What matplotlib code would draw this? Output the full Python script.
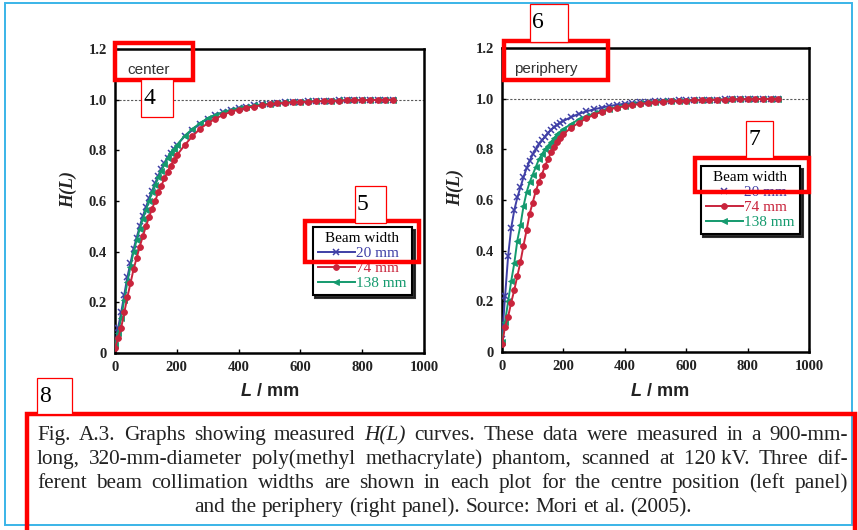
import matplotlib
matplotlib.use('Agg')
import matplotlib.pyplot as plt
from matplotlib.patches import Rectangle

# ---------------- data ----------------
L_mm = [0, 10, 20, 30, 40, 50, 60, 70, 80, 90, 100, 110, 120, 130, 140, 150, 160, 170, 180, 190, 200,
        225, 250, 275, 300, 325, 350, 375, 400, 425, 450, 475, 500, 525, 550, 575, 600, 625, 650, 675,
        700, 725, 750, 775, 800, 825, 850, 875, 900]

center_20 = [0.03, 0.10, 0.16, 0.23, 0.30, 0.355, 0.41, 0.455, 0.50, 0.54, 0.575, 0.61, 0.64, 0.67, 0.70,
             0.725, 0.75, 0.77, 0.79, 0.805, 0.82, 0.855, 0.88, 0.905, 0.925, 0.94, 0.95, 0.96, 0.967,
             0.972, 0.977, 0.981, 0.984, 0.987, 0.989, 0.991, 0.992, 0.993, 0.994, 0.995, 0.996, 0.997,
             0.997, 0.998, 0.998, 0.999, 0.999, 0.999, 1.0]
center_74 = [0.02, 0.06, 0.10, 0.16, 0.22, 0.275, 0.33, 0.375, 0.42, 0.46, 0.50, 0.535, 0.57, 0.60, 0.635,
             0.66, 0.69, 0.715, 0.74, 0.76, 0.78, 0.82, 0.855, 0.885, 0.907, 0.925, 0.94, 0.952, 0.961,
             0.968, 0.973, 0.978, 0.982, 0.985, 0.987, 0.989, 0.991, 0.992, 0.993, 0.994, 0.995, 0.996,
             0.997, 0.997, 0.998, 0.998, 0.999, 0.999, 1.0]
center_138 = [0.03, 0.08, 0.14, 0.21, 0.28, 0.34, 0.40, 0.445, 0.49, 0.53, 0.565, 0.60, 0.635, 0.665, 0.695,
              0.72, 0.745, 0.77, 0.79, 0.805, 0.82, 0.857, 0.884, 0.907, 0.927, 0.94, 0.95, 0.959, 0.966,
              0.972, 0.977, 0.981, 0.984, 0.987, 0.989, 0.991, 0.992, 0.993, 0.994, 0.995, 0.996, 0.997,
              0.997, 0.998, 0.998, 0.999, 0.999, 0.999, 1.0]

periph_20 = [0.05, 0.22, 0.38, 0.49, 0.56, 0.61, 0.65, 0.69, 0.725, 0.755, 0.78, 0.80, 0.82, 0.835, 0.85,
             0.865, 0.878, 0.888, 0.897, 0.905, 0.912, 0.927, 0.94, 0.95, 0.958, 0.965, 0.971, 0.976, 0.98,
             0.983, 0.986, 0.988, 0.99, 0.991, 0.992, 0.993, 0.994, 0.995, 0.995, 0.996, 0.996, 0.997,
             0.997, 0.998, 0.998, 0.999, 0.999, 0.999, 1.0]
periph_74 = [0.03, 0.10, 0.14, 0.195, 0.245, 0.30, 0.355, 0.42, 0.48, 0.545, 0.59, 0.635, 0.67, 0.70, 0.735,
             0.76, 0.79, 0.81, 0.83, 0.845, 0.86, 0.885, 0.905, 0.922, 0.937, 0.948, 0.958, 0.965, 0.97,
             0.975, 0.979, 0.983, 0.986, 0.988, 0.99, 0.991, 0.992, 0.993, 0.994, 0.995, 0.996, 0.996,
             0.997, 0.997, 0.998, 0.998, 0.999, 0.999, 1.0]
periph_138 = [0.04, 0.12, 0.20, 0.28, 0.35, 0.44, 0.50, 0.575, 0.63, 0.67, 0.70, 0.73, 0.76, 0.78, 0.80,
              0.815, 0.83, 0.845, 0.86, 0.87, 0.88, 0.90, 0.918, 0.93, 0.942, 0.952, 0.96, 0.967, 0.973,
              0.977, 0.981, 0.984, 0.987, 0.989, 0.99, 0.991, 0.992, 0.993, 0.994, 0.995, 0.996, 0.996,
              0.997, 0.997, 0.998, 0.998, 0.999, 0.999, 1.0]

beam_labels = ['20 mm', '74 mm', '138 mm']
panel_names = ['center', 'periphery']
x_ticks = [0, 200, 400, 600, 800, 1000]
x_tick_labels = ['0', '200', '400', '600', '800', '1000']
y_ticks = [0, 0.2, 0.4, 0.6, 0.8, 1.0, 1.2]
y_tick_labels = ['0', '0.2', '0.4', '0.6', '0.8', '1.0', '1.2']

caption_lines = [
    "Fig. A.3. Graphs showing measured H(L) curves. These data were measured in a 900-mm-",
    "long, 320-mm-diameter poly(methyl methacrylate) phantom, scanned at 120\u00a0kV. Three dif-",
    "ferent beam collimation widths are shown in each plot for the centre position (left panel)",
    "and the periphery (right panel). Source: Mori et al. (2005).",
]

# ---------------- layout ----------------
W, H = 858, 530
fig = plt.figure(figsize=(W / 100, H / 100), dpi=100)
fig.patch.set_facecolor('white')


def fig_rect(x0, y0, x1, y1):
    return [x0 / W, 1 - y1 / H, (x1 - x0) / W, (y1 - y0) / H]


colors = ['#3f3fa6', '#c9243c', '#149a6e']
markers = ['x', 'o', '<']
serif = 'Liberation Serif'
sans = 'Liberation Sans'

panels = [
    dict(box=(115, 49, 424, 353), data=[center_20, center_74, center_138], name=panel_names[0],
         leg=(412, 227), ylab=(68, 190), xlab=270),
    dict(box=(502, 48, 809, 352), data=[periph_20, periph_74, periph_138], name=panel_names[1],
         leg=(800, 166), ylab=(455, 187), xlab=660),
]

renderer = fig.canvas.get_renderer()

for p in panels:
    ax = fig.add_axes(fig_rect(*p['box']))
    ax.set_xlim(0, 1000)
    ax.set_ylim(0, 1.2)
    ax.axhline(1.0, color='0.35', lw=0.8, ls=(0, (2, 1.5)), zorder=1)
    handles = [None] * 3
    for i in [0, 2, 1]:
        ln, = ax.plot(L_mm, p['data'][i], color=colors[i], marker=markers[i], ms=4.2,
                      mew=1.1 if markers[i] == 'x' else 0.6, lw=1.4, zorder=3 + (1 if i == 1 else 0))
        handles[i] = ln
    for s in ax.spines.values():
        s.set_linewidth(1.8)
    ax.set_xticks(x_ticks)
    ax.set_xticklabels(x_tick_labels)
    ax.set_yticks(y_ticks)
    ax.set_yticklabels(y_tick_labels)
    ax.tick_params(direction='in', length=3, width=1, pad=6)
    for lab in ax.get_xticklabels() + ax.get_yticklabels():
        lab.set_fontfamily(serif)
        lab.set_fontweight('bold')
        lab.set_fontsize(10.5)
        lab.set_color('#222222')
    ax.text(0.04, 0.93, p['name'], transform=ax.transAxes, fontfamily=sans, fontsize=11,
            color='#333333', ha='left', va='center')
    leg = ax.legend(handles, beam_labels, title='Beam width', loc='upper right',
                    bbox_to_anchor=(p['leg'][0] / W, 1 - p['leg'][1] / H), bbox_transform=fig.transFigure,
                    borderaxespad=0, fancybox=False, frameon=True, edgecolor='black',
                    shadow={'color': '0.1', 'alpha': 0.9},
                    prop={'family': serif, 'size': 11}, title_fontproperties={'family': serif, 'size': 11},
                    handlelength=2.4, handletextpad=0.1, labelspacing=0.08, borderpad=0.35)
    leg.get_frame().set_linewidth(1.5)
    for t, c in zip(leg.get_texts(), colors):
        t.set_color(c)
    # y label
    fig.text(p['ylab'][0] / W, 1 - p['ylab'][1] / H, 'H(L)', rotation=90, fontfamily=serif,
             fontweight='bold', fontstyle='italic', fontsize=13, ha='center', va='center', color='#222222')
    # x label: italic L + " / mm"
    t1 = fig.text(0, 0, 'L', fontfamily=sans, fontweight='bold', fontstyle='italic', fontsize=13,
                  color='#222222', va='baseline')
    t2 = fig.text(0, 0, ' / mm', fontfamily=sans, fontweight='bold', fontsize=13, color='#222222',
                  va='baseline')
    w1 = t1.get_window_extent(renderer).width
    w2 = t2.get_window_extent(renderer).width
    xs = p['xlab'] - (w1 + w2) / 2
    t1.set_position((xs / W, 1 - 396 / H))
    t2.set_position(((xs + w1) / W, 1 - 396 / H))

# ---------------- caption ----------------
cap_size = 15.3
cap_baselines = [440, 464, 488, 512]
cap_x0, cap_x1 = 37, 848


def make_words(line):
    return [(w, 'italic' if w == 'H(L)' else 'normal') for w in line.split(' ')]


sp = fig.text(0, 0, 'a a', fontfamily=serif, fontsize=cap_size)
sp2 = fig.text(0, 0, 'aa', fontfamily=serif, fontsize=cap_size)
space_w = sp.get_window_extent(renderer).width - sp2.get_window_extent(renderer).width
sp.remove(); sp2.remove()

for li, (line, yy) in enumerate(zip(caption_lines, cap_baselines)):
    words = make_words(line)
    txts = [fig.text(0, 1 - yy / H, w, fontfamily=serif, fontstyle=st, fontsize=cap_size,
                     color='#222222', va='baseline', ha='left') for w, st in words]
    widths = [t.get_window_extent(renderer).width for t in txts]
    if li < 3:
        avail = cap_x1 - cap_x0
        gap = (avail - sum(widths)) / (len(words) - 1)
        if gap < 0.6 * space_w:
            scale = (avail - 0.6 * space_w * (len(words) - 1)) / sum(widths)
            for t in txts:
                t.set_fontsize(cap_size * scale)
            widths = [t.get_window_extent(renderer).width for t in txts]
            gap = (avail - sum(widths)) / (len(words) - 1)
        x = cap_x0
    else:
        gap = space_w
        total = sum(widths) + gap * (len(words) - 1)
        x = 443 - total / 2
    for t, w in zip(txts, widths):
        t.set_x(x / W)
        x += w + gap


# ---------------- annotation overlays ----------------
def add_box(x0, y0, x1, y1, lw, face='none', z=10):
    r = Rectangle((x0 / W, 1 - y1 / H), (x1 - x0) / W, (y1 - y0) / H, transform=fig.transFigure,
                  facecolor=face, edgecolor='#ff0000', linewidth=lw, zorder=z)
    fig.add_artist(r)


def add_num(x0, y0, x1, y1, s):
    add_box(x0, y0, x1, y1, 0.9, face='white', z=11)
    fig.text((x0 + 2) / W, 1 - ((y0 + y1) / 2) / H, s, fontfamily=serif, fontsize=17, ha='left',
             va='center', color='black', zorder=12)


# outer light-blue frame
fig.add_artist(Rectangle((5 / W, 1 - 525 / H), 847 / W, 522 / H, transform=fig.transFigure,
                         facecolor='none', edgecolor='#3ab4e8', linewidth=1.4, zorder=9))

add_box(115, 43, 193, 80, 3.2)
add_num(141, 79, 173, 117, '4')
add_box(305, 221, 419, 262, 3.2)
add_num(355, 186, 386, 223, '5')
add_box(504, 41, 608, 80, 3.2)
add_num(530, 4, 568, 42, '6')
add_box(695, 158, 809, 192, 3.2)
add_num(746, 121, 773, 158, '7')
add_box(27, 414, 855, 534, 3.2)
add_num(37, 378, 72, 414, '8')

fig.savefig('out.png', dpi=100)
